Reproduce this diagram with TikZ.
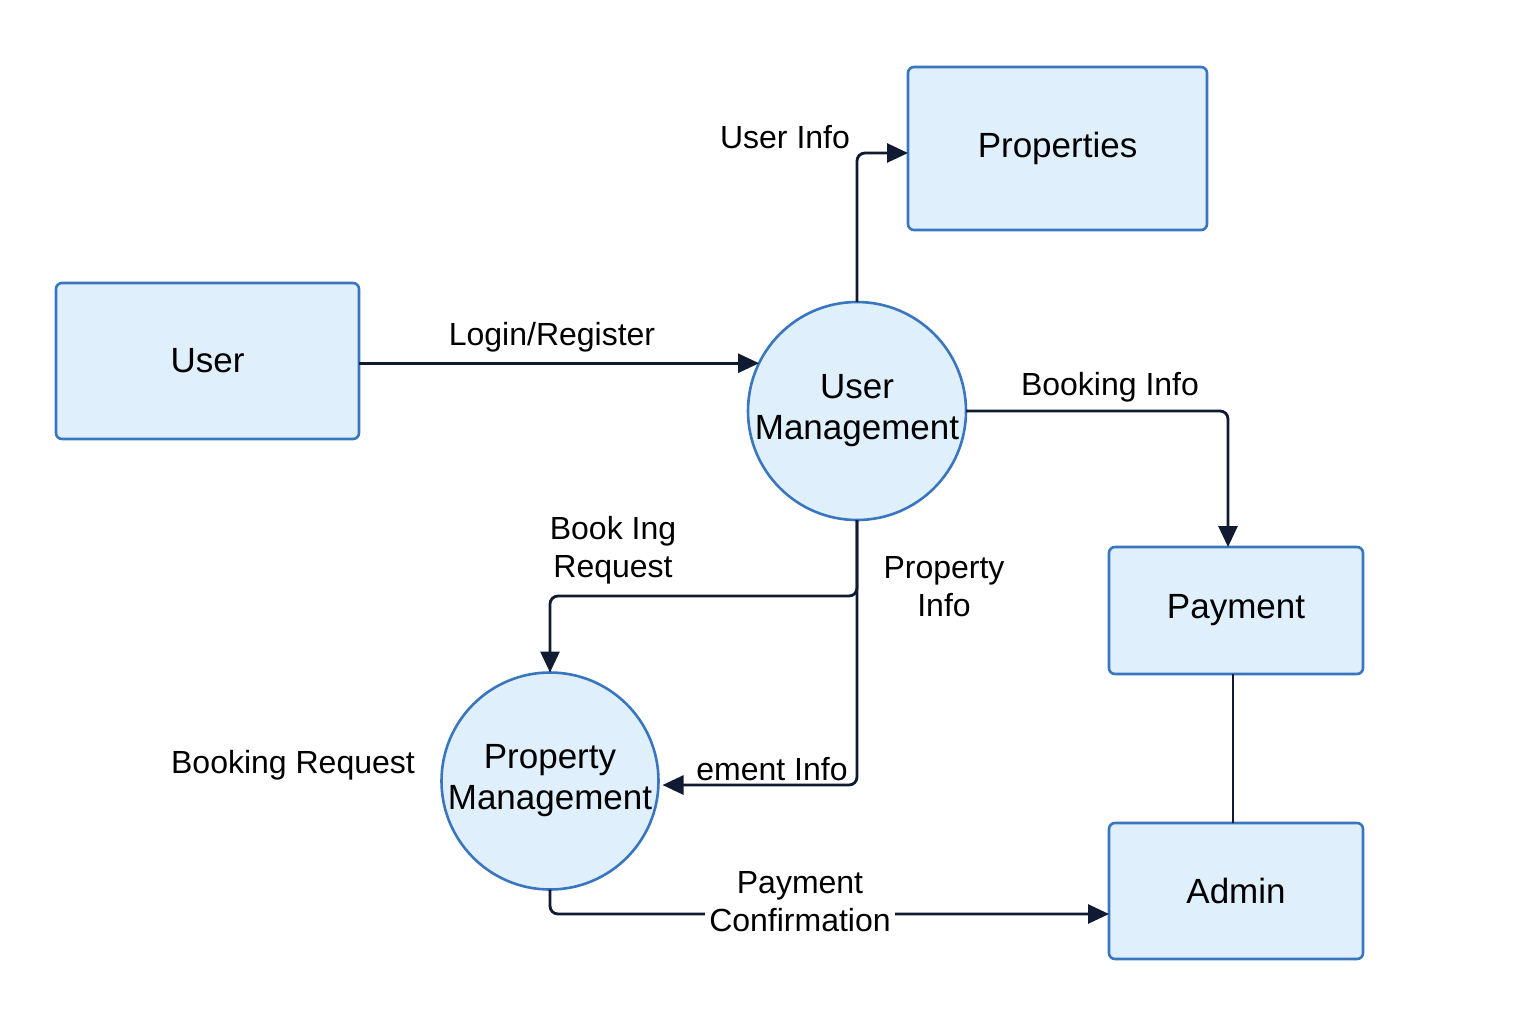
\documentclass[tikz,border=0pt]{standalone}
\usepackage{fontspec}
\setmainfont{Liberation Sans}
\usetikzlibrary{arrows.meta}
\definecolor{boxfill}{HTML}{DFEFFC}
\definecolor{boxline}{HTML}{3A76C0}
\definecolor{flowc}{HTML}{111A33}
\begin{document}
\begin{tikzpicture}[x=0.5pt,y=-0.5pt,
  entity/.style={draw=boxline, fill=boxfill, line width=1.3pt, rounded corners=3pt,
    outer sep=0pt, inner sep=0pt, font=\fontsize{17.5}{20}\selectfont},
  proc/.style={circle, draw=boxline, fill=boxfill, line width=1.3pt, outer sep=0pt,
    inner sep=0pt, align=center, font=\fontsize{17.5}{20.5}\selectfont},
  flow/.style={draw=flowc, line width=1.4pt, rounded corners=4pt,
    -{Triangle[length=10.5pt,width=9.5pt]}},
  plain/.style={draw=flowc, line width=1.4pt},
  lbl/.style={inner sep=1pt, align=center, text=black, font=\fontsize{16}{19}\selectfont}]
\fill[white] (0,0) rectangle (1536,1024);
\useasboundingbox (0,0) rectangle (1536,1024);

% entities
\node[entity, minimum width=149.5pt, minimum height=81.5pt] (props) at (1057.5,148.5) {Properties};
\node[entity, minimum width=151.5pt, minimum height=78pt] (user) at (207.5,361) {User};
\node[entity, minimum width=127pt, minimum height=63.5pt] (payment) at (1236,610.5) {Payment};
\node[entity, minimum width=127pt, minimum height=68pt] (admin) at (1236,891) {Admin};

% processes
\node[proc, minimum size=109pt] (um) at (857,411) {User\\Management};
\node[proc, minimum size=108.5pt] (pm) at (550,781) {Property\\Management};

% connectors
\draw[flow] (user.east |- um.154.5) -- (um.154.5);
\draw[flow] (um.north) |- ([yshift=-2.25pt]props.west);
\draw[flow] (um.east) -| ([xshift=-4pt]payment.north);
\draw[flow] (um.south) -- ++(0,76) -| (pm.north);
\draw[flow] (um.south) |- ([yshift=-2pt,xshift=2pt]pm.east);
\draw[plain] ([xshift=-1.5pt]payment.south) -- ([xshift=-1.5pt]admin.north);
\draw[flow] (pm.south) |- ([yshift=-11.5pt]admin.west);

% labels
\node[lbl] (lLogin) at (552,337) {Login/Register};
\node[lbl] (lUserInfo) at (785,137) {User Info};
\node[lbl] (lBookInfo) at (1110,387) {Booking Info};
\node[lbl] (lBookReq) at (613,550) {Book Ing\\Request};
\node[lbl] (lPropInfo) at (944,587) {Property\\Info};
\node[lbl] (lMgmt) at (772,769) {ement Info};
\node[lbl] (lBookReq2) at (293,765) {Booking Request};
\node[lbl, fill=white, inner xsep=2pt, inner ysep=0pt] (lPayConf) at (800,902) {Payment\\Confirmation};
\end{tikzpicture}
\end{document}
